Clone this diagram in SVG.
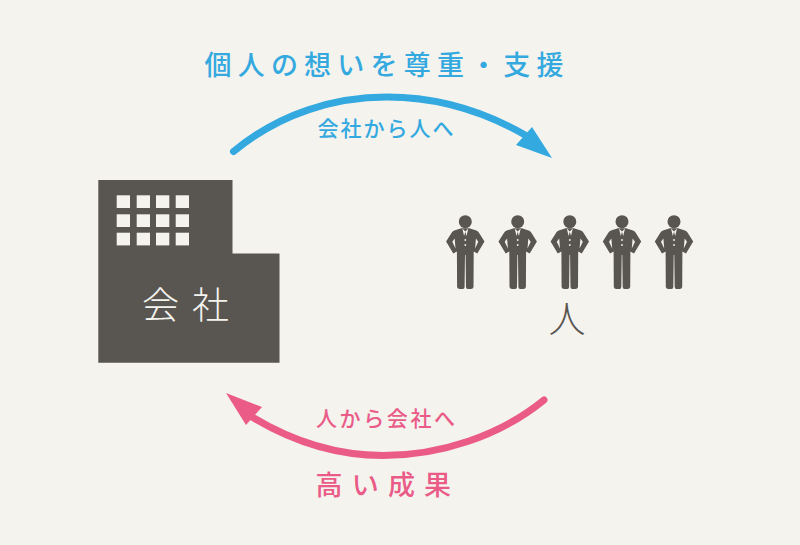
<svg xmlns="http://www.w3.org/2000/svg" width="800" height="545" viewBox="0 0 800 545">
<style>
text{font-family:"Noto Sans CJK JP","Noto Sans",sans-serif}
.dark{fill:#595551}
.win{fill:#f4f3ee}
.blue{fill:#34a9e0}
.pink{fill:#ea5b88}
.big{font-size:27px;font-weight:500}
.sub{font-size:21px;font-weight:500}
.conn{fill:none;stroke-width:7;stroke-linecap:round}
</style>
<defs>
<g id="person">
<circle cx="0" cy="16.700" r="6.500" class="dark"/>
<path class="dark" d="M-4 23.200L-11 25.600Q-12.500 26.200-13.500 27.600L-19.200 36.400L-12 48.500L-8.400 46.500L-8.200 82Q-8 84-5.500 84L-2.500 84Q-0.800 84-0.700 82L-0.300 50L0.300 50L0.700 82Q0.800 84 2.500 84L5.500 84Q8 84 8.200 82L8.400 46.500L12 48.500L19.200 36.400L13.500 27.600Q12.500 26.200 11 25.600L4 23.200Z"/>
<path class="win" d="M-10.600 33.500L-13 36.800L-9.800 43.500ZM10.600 33.500L13 36.800L9.800 43.500Z"/>
<path class="win" d="M-3 23.600L0 26.400L3 23.600L1.200 31L0 26.800L-1.200 31Z"/>
<circle cx="0" cy="35" r="0.900" class="win"/>
<circle cx="0" cy="40" r="0.900" class="win"/>
</g>
</defs>
<rect width="800" height="545" fill="#f4f3ee"/>
<g id="connectors">
<path class="conn" stroke="#34a9e0" d="M233.500 151.500C280 113 335 97 387 97C440 97 485 112 525 135"/>
<polygon class="blue" points="552,158 516,145 532,127"/>
<path class="conn" stroke="#ea5b88" d="M544 400C500 436 440 455.500 383 455.500C335 455.500 290 440 252 417"/>
<polygon class="pink" points="226,393 262,407 246,425"/>
</g>
<g id="label-top">
<text class="big blue" x="204.500" y="74.500" letter-spacing="6.200">個人の想いを尊重・支援</text>
<text class="sub blue" x="317.500" y="136" letter-spacing="2">会社から人へ</text>
</g>
<g id="label-bottom">
<text class="sub pink" x="316" y="426" letter-spacing="2.600">人から会社へ</text>
<text class="big pink" x="315.500" y="495" letter-spacing="9.200">高い成果</text>
</g>
<g id="node-company">
<path class="dark" d="M98.300 180H232.500V253.500H279.500V362.700H98.300Z"/>
<rect class="win" x="116.700" y="195.300" width="13.300" height="12.700"/>
<rect class="win" x="136.700" y="195.300" width="13.300" height="12.700"/>
<rect class="win" x="156" y="195.300" width="13.300" height="12.700"/>
<rect class="win" x="175.700" y="195.300" width="13.300" height="12.700"/>
<rect class="win" x="116.700" y="214.300" width="13.300" height="12.700"/>
<rect class="win" x="136.700" y="214.300" width="13.300" height="12.700"/>
<rect class="win" x="156" y="214.300" width="13.300" height="12.700"/>
<rect class="win" x="175.700" y="214.300" width="13.300" height="12.700"/>
<rect class="win" x="116.700" y="232.700" width="13.300" height="12.700"/>
<rect class="win" x="136.700" y="232.700" width="13.300" height="12.700"/>
<rect class="win" x="156" y="232.700" width="13.300" height="12.700"/>
<rect class="win" x="175.700" y="232.700" width="13.300" height="12.700"/>
<text class="win" x="142" y="319" font-size="37" font-weight="300" letter-spacing="13">会社</text>
</g>
<g id="node-people">
<use href="#person" x="465.300" y="205"/>
<use href="#person" x="517.700" y="205"/>
<use href="#person" x="569.800" y="205"/>
<use href="#person" x="622" y="205"/>
<use href="#person" x="674" y="205"/>
<text class="dark" x="548.500" y="333" font-size="37" font-weight="300">人</text>
</g>
</svg>
